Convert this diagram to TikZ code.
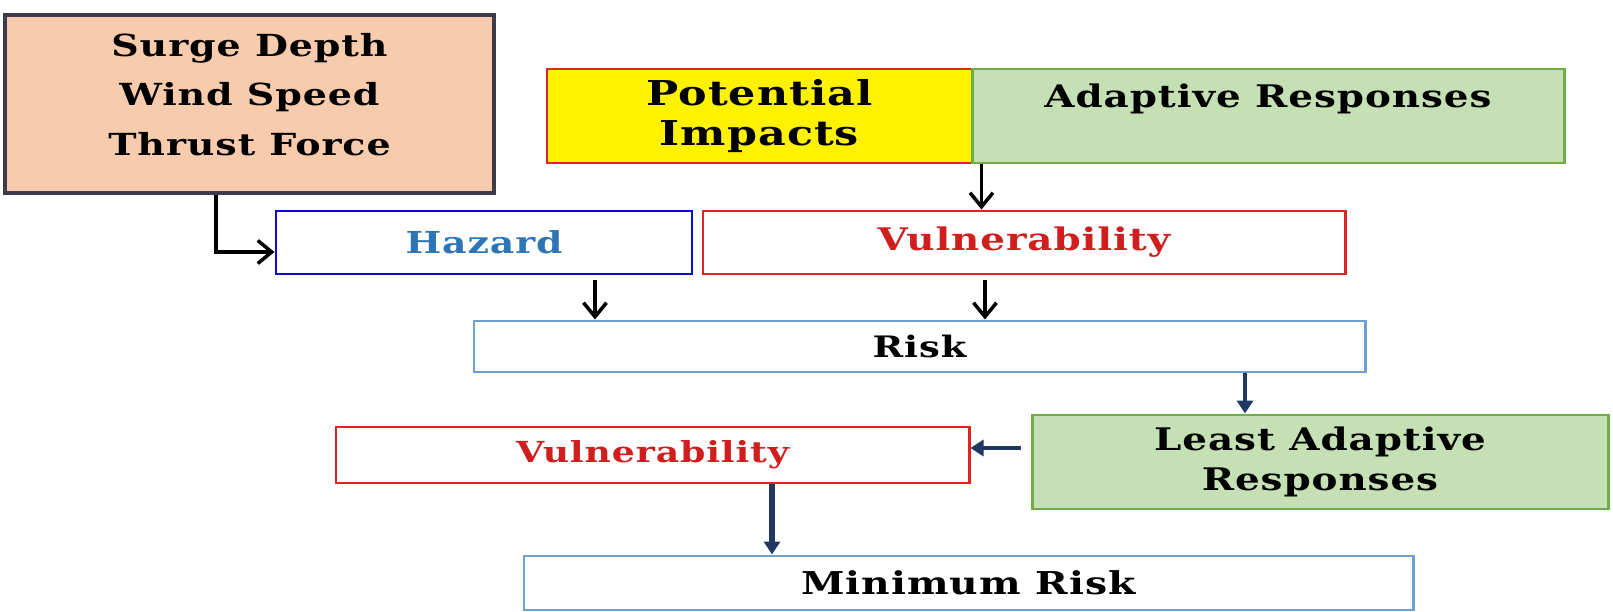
\documentclass[tikz,border=0pt]{standalone}
\usepackage{fontspec}
\setmainfont{DejaVu Serif}[FakeStretch=1.25,LetterSpace=3]
\usetikzlibrary{arrows.meta,positioning,calc}
\definecolor{peach}{HTML}{F8CBAD}
\definecolor{slate}{HTML}{3C3C4C}
\definecolor{sage}{HTML}{C5E0B4}
\definecolor{leaf}{HTML}{70AD47}
\definecolor{brick}{HTML}{E02424}
\definecolor{wine}{HTML}{D01E1E}
\definecolor{royal}{HTML}{0A0AD8}
\definecolor{azure}{HTML}{2E75B6}
\definecolor{sky}{HTML}{6FA0D2}
\definecolor{navy}{HTML}{1F3864}

\begin{document}
\begin{tikzpicture}[
caixa/.style={draw, line width=1.7pt, align=center, inner sep=0pt, text=black, font=\bfseries\fontsize{17.5}{23}\selectfont},
seta/.style={-{Straight Barb[length=2.8mm,width=4.6mm]}, line width=2pt},
setaazul/.style={-{Triangle[length=2.6mm,width=3.2mm]}, line width=2.2pt, draw=navy, fill=navy}
]
\useasboundingbox[fill=white] (0,0) rectangle (32.26,-12.24);

\node[caixa, draw=slate, fill=peach, line width=2.3pt, minimum width=9.78cm, minimum height=3.56cm, font=\bfseries\fontsize{17.3}{28}\selectfont] (fatores) at (4.99,-2.08) {Surge Depth\\Wind Speed\\Thrust Force\\[-17pt]\mbox{}};
\node[caixa, draw=brick, fill=yellow, minimum width=8.5cm, minimum height=1.88cm, font=\bfseries\fontsize{19.5}{23}\selectfont] (impactos) at (15.19,-2.32) {Potential\\Impacts};
\node[caixa, draw=leaf, fill=sage, minimum width=11.84cm, minimum height=1.88cm, font=\bfseries\fontsize{17.7}{23}\selectfont] (respostas) at (25.36,-2.32) {Adaptive Responses\\~};

\node[caixa, draw=royal, text=azure, minimum width=8.32cm, minimum height=1.26cm, font=\bfseries\fontsize{17.2}{23}\selectfont] (perigo) at (9.68,-4.85) {Hazard};
\node[caixa, draw=brick, text=wine, minimum width=12.84cm, minimum height=1.26cm, font=\bfseries\fontsize{17.7}{23}\selectfont] (vuln) at (20.48,-4.85) {Vulnerability};
\node[caixa, draw=sky, minimum width=17.82cm, minimum height=1.02cm, font=\bfseries\fontsize{16.8}{23}\selectfont] (risco) at (18.39,-6.93) {Risk};

\node[caixa, draw=leaf, fill=sage, minimum width=11.52cm, minimum height=1.88cm, font=\bfseries\fontsize{17.7}{23}\selectfont] (menos) at (26.40,-9.24) {Least Adaptive\\Responses};
\node[caixa, draw=brick, text=wine, minimum width=12.66cm, minimum height=1.12cm, font=\bfseries\fontsize{16.5}{23}\selectfont] (vulnb) at (13.05,-9.10) {Vulnerability};
\node[caixa, draw=sky, minimum width=17.78cm, minimum height=1.08cm, font=\bfseries\fontsize{17.9}{23}\selectfont] (minimo) at (19.37,-11.66) {Minimum Risk};

\draw[seta] ([xshift=-0.67cm]fatores.south) |- ([yshift=-0.19cm]perigo.west);
\draw[seta] ([xshift=0.16cm]impactos.south east) -- ([xshift=0.16cm]impactos.south east |- vuln.north);
\draw[seta] ([xshift=2.22cm,yshift=-0.1cm]perigo.south) -- ([xshift=2.22cm]perigo.south |- risco.north);
\draw[seta] ([xshift=-0.78cm,yshift=-0.1cm]vuln.south) -- ([xshift=-0.78cm]vuln.south |- risco.north);
\draw[setaazul] ([xshift=-1.5cm]menos.north |- risco.south) -- ([xshift=-1.5cm]menos.north);
\draw[setaazul, shorten <=0.2cm] ([yshift=0.14cm]vulnb.east -| menos.west) -- ([yshift=0.14cm]vulnb.east);
\draw[setaazul, line width=3pt] ([xshift=2.39cm]vulnb.south) -- ([xshift=2.39cm]vulnb.south |- minimo.north);
\end{tikzpicture}
\end{document}
